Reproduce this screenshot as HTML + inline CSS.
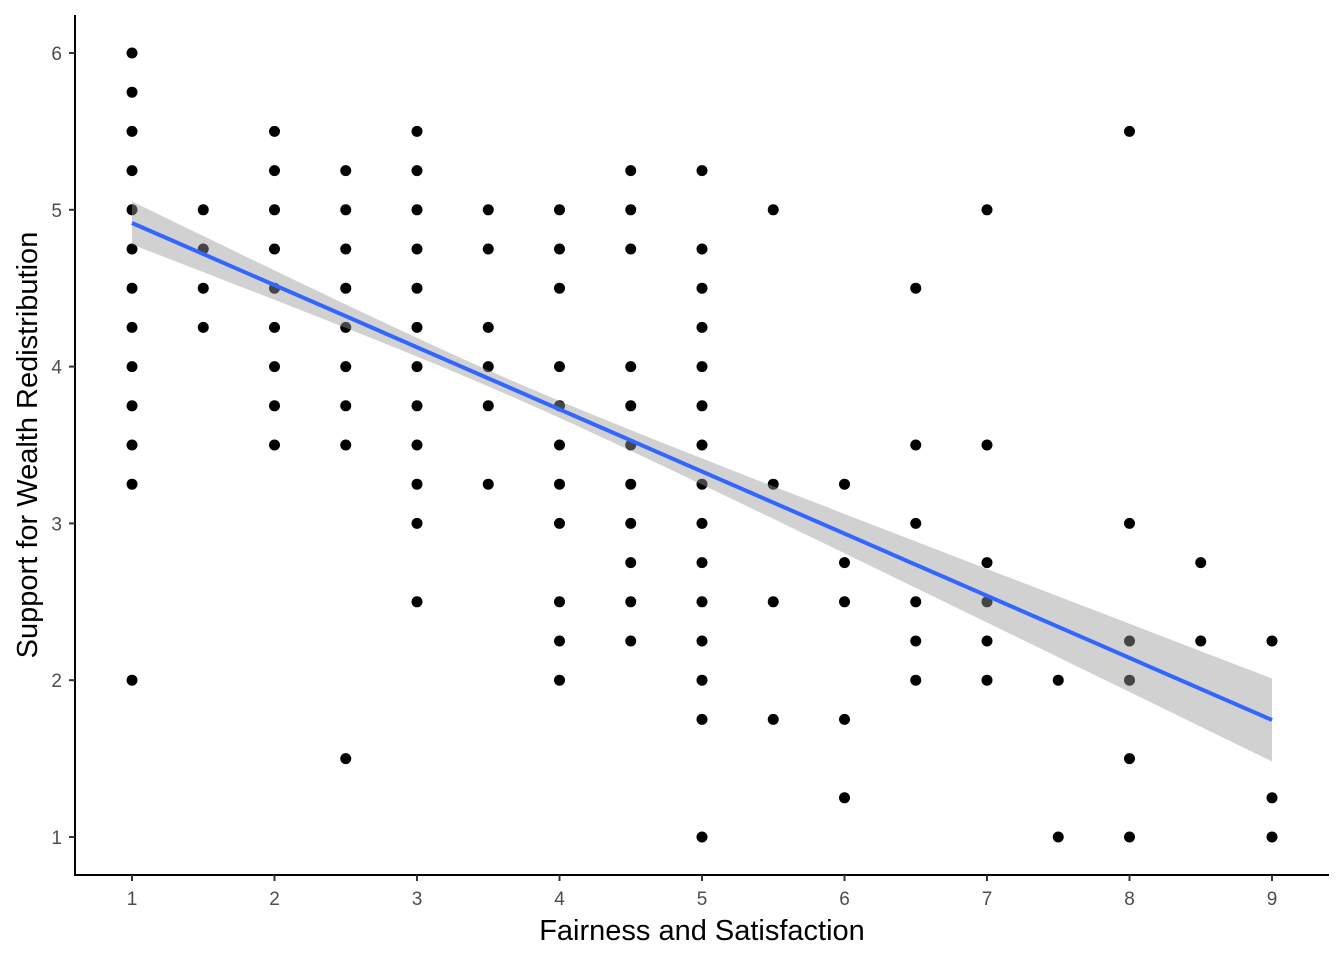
<!DOCTYPE html>
<html><head><meta charset="utf-8"><style>
html,body{margin:0;padding:0;background:#fff}
svg{display:block}
text{font-family:"Liberation Sans",Arial,sans-serif}
</style></head><body>
<svg id="s" width="1344" height="960" viewBox="0 0 1344 960" xmlns="http://www.w3.org/2000/svg"></svg>
<script>
const s=document.getElementById('s');
const X=v=>132+(v-1)*142.5, Y=v=>837-(v-1)*156.8;
let h='';
const P={1:[6,5.75,5.5,5.25,5,4.75,4.5,4.25,4,3.75,3.5,3.25,2],1.5:[5,4.75,4.5,4.25],2:[5.5,5.25,5,4.75,4.5,4.25,4,3.75,3.5],2.5:[5.25,5,4.75,4.5,4.25,4,3.75,3.5,1.5],3:[5.5,5.25,5,4.75,4.5,4.25,4,3.75,3.5,3.25,3,2.5],3.5:[5,4.75,4.25,4,3.75,3.25],4:[5,4.75,4.5,4,3.75,3.5,3.25,3,2.5,2.25,2],4.5:[5.25,5,4.75,4,3.75,3.5,3.25,3,2.75,2.5,2.25],5:[5.25,4.75,4.5,4.25,4,3.75,3.5,3.25,3,2.75,2.5,2.25,2,1.75,1],5.5:[5,3.25,2.5,1.75],6:[3.25,2.75,2.5,1.75,1.25],6.5:[4.5,3.5,3,2.5,2.25,2],7:[5,3.5,2.75,2.5,2.25,2],7.5:[2,1],8:[5.5,3,2.25,2,1.5,1],8.5:[2.75,2.25],9:[2.25,1.25,1]};
for(const k in P)for(const v of P[k])h+=`<circle cx="${X(+k)}" cy="${Y(v).toFixed(1)}" r="5.5" fill="#000"/>`;
// ribbon
const m=3.63,a=64,b=57.5;
const ly=v=>223+(v-1)*(720-223)/8;
let up=[],dn=[];
for(let i=0;i<=80;i++){const v=1+i*0.1;const hw=Math.sqrt(a+b*(v-m)*(v-m));up.push(X(v).toFixed(1)+','+(ly(v)-hw).toFixed(1));dn.unshift(X(v).toFixed(1)+','+(ly(v)+hw).toFixed(1));}
h+='<polygon points="'+up.concat(dn).join(' ')+'" fill="#999" fill-opacity="0.45"/>';
h+='<line x1="132" y1="223" x2="1272" y2="720" stroke="#3366ff" stroke-width="4"/>';
// axes
h+='<line x1="75" y1="15" x2="75" y2="876" stroke="#000" stroke-width="2"/>';
h+='<line x1="74" y1="875" x2="1329" y2="875" stroke="#000" stroke-width="2"/>';
for(let v=1;v<=6;v++){const y=Y(v);h+=`<line x1="69" y1="${y}" x2="75" y2="${y}" stroke="#333" stroke-width="2"/><text x="62" y="${y+7}" font-size="19" fill="#4d4d4d" text-anchor="end">${v}</text>`;}
for(let v=1;v<=9;v++){const x=X(v);h+=`<line x1="${x}" y1="875" x2="${x}" y2="881" stroke="#333" stroke-width="2"/><text x="${x}" y="905" font-size="19" fill="#4d4d4d" text-anchor="middle">${v}</text>`;}
h+='<text x="702" y="940" font-size="29" text-anchor="middle" fill="#000">Fairness and Satisfaction</text>';
h+='<text transform="translate(37,445) rotate(-90)" font-size="29" text-anchor="middle" fill="#000">Support for Wealth Redistribution</text>';
s.innerHTML=h;
</script>
</body></html>
